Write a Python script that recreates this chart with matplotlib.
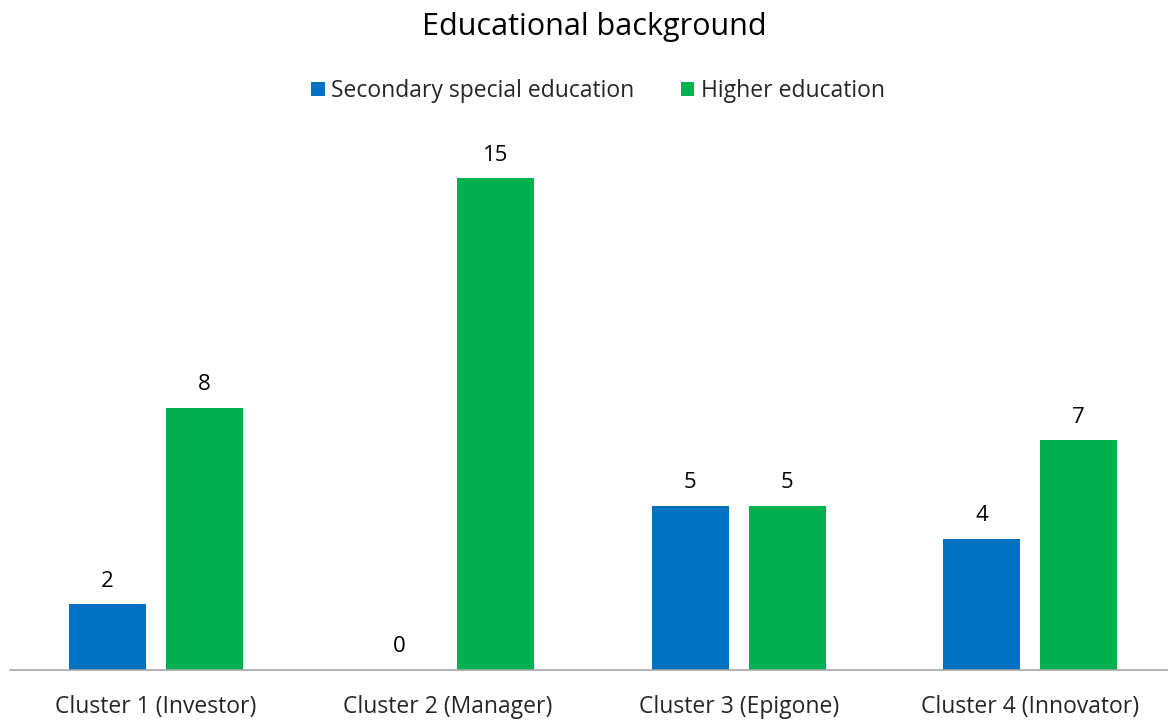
import matplotlib.pyplot as plt
import numpy as np

plt.rcParams['font.family'] = ['Open Sans', 'DejaVu Sans']

categories = ['Cluster 1 (Investor)', 'Cluster 2 (Manager)', 'Cluster 3 (Epigone)', 'Cluster 4 (Innovator)']
secondary = [2, 0, 5, 4]
higher = [8, 15, 5, 7]
series_names = ['Secondary special education', 'Higher education']
colors = ['#0070C0', '#00B050']

W, H = 1168, 720
fig = plt.figure(figsize=(W / 100, H / 100), dpi=100)

# axes box in pixel terms: baseline at y=670, category 0 centred at x=156
left_px, right_px = 10, 1168
bottom_px, top_px = 670, 130
ax = fig.add_axes([left_px / W, 1 - bottom_px / H, (right_px - left_px) / W, (bottom_px - top_px) / H])

step = 291.3
x = np.arange(len(categories))
bw = 77 / step
off = (77 + 20) / 2 / step

b1 = ax.bar(x - off, secondary, bw, color=colors[0], label=series_names[0])
b2 = ax.bar(x + off, higher, bw, color=colors[1], label=series_names[1])

ax.bar_label(b1, padding=9, fontsize=16, color='#000000')
ax.bar_label(b2, padding=9, fontsize=16, color='#000000')

ax.set_xlim(-0.5 + (left_px - 10.4) / step, 3 + (right_px - 1030) / step)
ax.set_ylim(0, (bottom_px - top_px) / 32.8)

ax.set_xticks(x)
ax.set_xticklabels(categories, fontsize=16.5, color='#262626')
ax.tick_params(axis='x', length=0, pad=18)
ax.set_yticks([])
for s in ['top', 'right', 'left']:
    ax.spines[s].set_visible(False)
ax.spines['bottom'].set_color('#A6A6A6')
ax.spines['bottom'].set_linewidth(1.2)

fig.text(594 / W, 1 - 27 / H, 'Educational background', ha='center', va='center', fontsize=22, color='#000000')

fig.legend(handles=[b1, b2], labels=series_names, loc='center', bbox_to_anchor=(598 / W, 1 - 91 / H),
           ncol=2, frameon=False, fontsize=16.5, handlelength=0.6, handleheight=0.6,
           handletextpad=0.3, columnspacing=2.0, labelcolor='#262626')

fig.savefig('out.png', dpi=100)
